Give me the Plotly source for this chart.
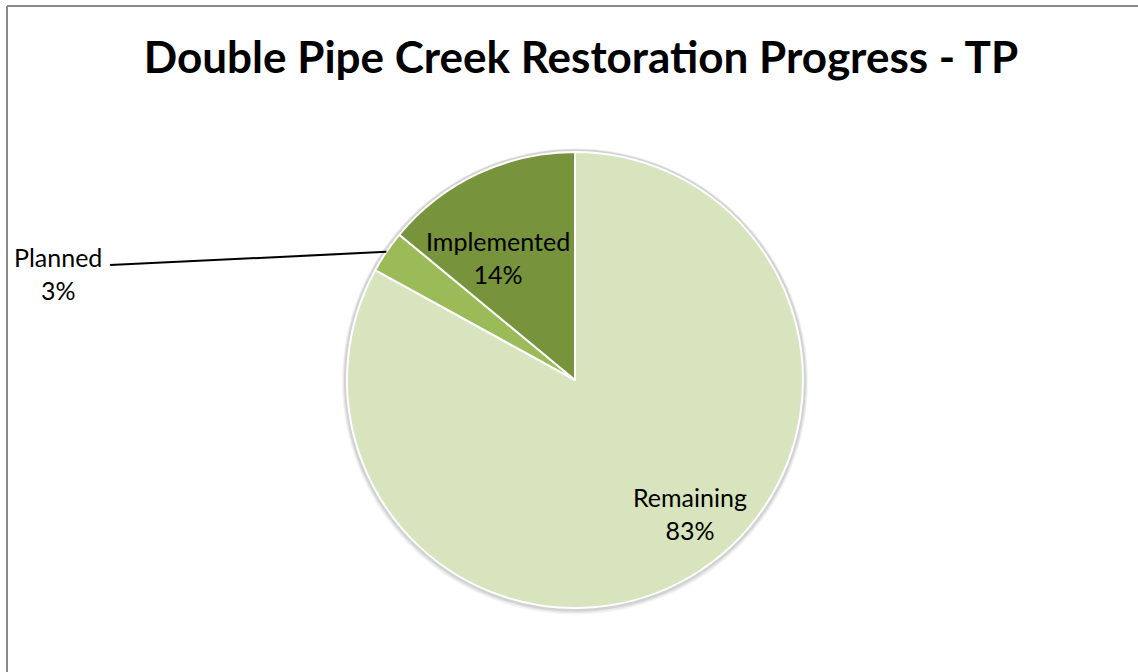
import math
import plotly.graph_objects as go

# Share of total phosphorus reduction, by status
labels = ["Remaining", "Planned", "Implemented"]
values = [83, 3, 14]
colors = ["#D7E4BD", "#9BBB59", "#77933C"]

W, H = 1138, 672
cx, cy, r = 575, 380, 228  # pie centre and radius in pixels

fig = go.Figure(go.Pie(
    labels=labels,
    values=values,
    sort=False,
    direction="clockwise",
    rotation=0,
    marker=dict(colors=colors, line=dict(color="white", width=2)),
    textinfo="none",
    hoverinfo="label+percent",
    showlegend=False,
    domain=dict(x=[(cx - r) / W, (cx + r) / W], y=[1 - (cy + r) / H, 1 - (cy - r) / H]),
))

total = sum(values)
font = dict(family="Lato, Calibri, sans-serif", size=25, color="black")


def px_to_paper(x, y):
    return x / W, 1 - y / H


# data-label anchor points (pixels) for each category
label_pos = {"Remaining": (690, 513), "Implemented": (498, 257), "Planned": (58, 273)}

annotations = []
shapes = []

# soft shadow ring around the pie
for extra, dy, col in [(5, 1.5, "#F4F4F4"), (4, 1, "#E6E6E6"), (3, 0.5, "#D2D2D2")]:
    x0, y0 = px_to_paper(cx - r - extra, cy - r - extra + dy)
    x1, y1 = px_to_paper(cx + r + extra, cy + r + extra + dy)
    shapes.append(dict(type="circle", xref="paper", yref="paper", layer="below",
                       x0=x0, y0=y1, x1=x1, y1=y0, fillcolor=col, line=dict(width=0)))

start = 0.0  # degrees clockwise from 12 o'clock
for lab, val in zip(labels, values):
    span = 360.0 * val / total
    mid = math.radians(start + span / 2)
    pct = f"{round(100 * val / total)}%"
    x, y = px_to_paper(*label_pos[lab])
    annotations.append(dict(x=x, y=y, xref="paper", yref="paper", text=f"{lab}<br>{pct}",
                            xanchor="center", yanchor="middle",
                            showarrow=False, font=font, align="center"))
    if lab == "Planned":
        # small slice: leader line from the slice edge to its outside label
        ex, ey = px_to_paper(cx + r * math.sin(mid), cy - r * math.cos(mid))
        lx, ly = px_to_paper(110, 265)
        shapes.append(dict(type="line", xref="paper", yref="paper", x0=lx, y0=ly, x1=ex, y1=ey,
                           line=dict(color="black", width=2)))
    start += span

# chart-area frame (top and left edges)
shapes.append(dict(type="line", xref="paper", yref="paper", x0=7 / W, y0=1 - 6 / H, x1=1, y1=1 - 6 / H,
                   line=dict(color="#8A8A8A", width=2)))
shapes.append(dict(type="line", xref="paper", yref="paper", x0=7 / W, y0=1 - 6 / H, x1=7 / W, y1=0,
                   line=dict(color="#8A8A8A", width=2)))

fig.update_layout(
    width=W, height=H,
    margin=dict(l=0, r=0, t=0, b=0),
    paper_bgcolor="white",
    title=dict(text="<b>Double Pipe Creek Restoration Progress - TP</b>",
               x=581 / W, xanchor="center", y=1 - 58 / H, yanchor="middle",
               font=dict(family="Lato, Calibri, sans-serif", size=44, color="black")),
    annotations=annotations,
    shapes=shapes,
)

fig.write_html("out.html")
